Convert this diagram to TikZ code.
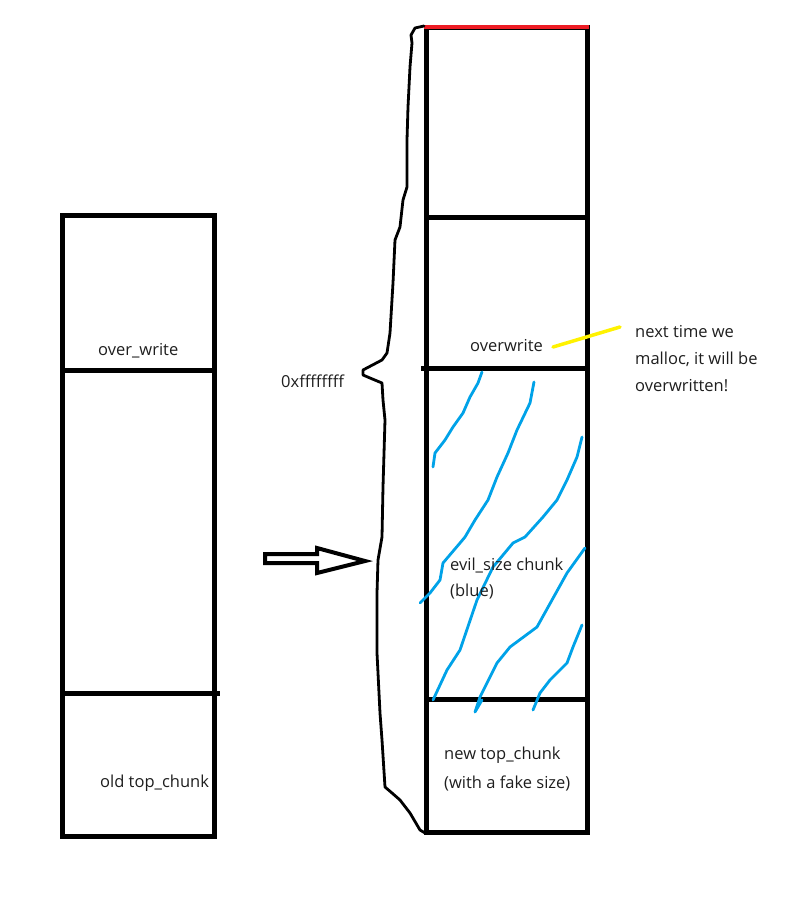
\documentclass[tikz,border=0pt]{standalone}
\usepackage{fontspec}
\setmainfont{Open Sans}
\begin{document}
\begin{tikzpicture}[x=1pt,y=-1pt,
  box/.style={line width=5pt},
  brace/.style={line width=2.8pt,line join=round,line cap=round},
  blueline/.style={line width=2.8pt,color=stroke,line join=round,line cap=round},
  lbl/.style={font=\fontsize{16.5}{20}\selectfont,text=txt,inner sep=0pt,anchor=west}]
\definecolor{stroke}{RGB}{0,162,232}
\definecolor{txt}{RGB}{30,30,30}
\definecolor{redl}{RGB}{237,28,36}
\definecolor{yell}{RGB}{255,242,0}
\useasboundingbox (0,0) rectangle (791,900);
% left column
\draw[box] (62,215) rectangle (214,836);
\draw[box] (60,370) -- (216,370);
\draw[box] (60,693) -- (220,693);
% right column
\draw[box] (426,27) rectangle (587,832);
\draw[box] (426,217) -- (587,217);
\draw[box] (421,368) -- (589,368);
\draw[box] (426,699) -- (589,699);
\draw[line width=4.5pt,redl] (424,27) -- (589,27);
% hollow arrow
\draw[line width=4pt,line join=miter] (265,554) -- (317,554) -- (317,548) -- (365,561) -- (317,573) -- (317,563) -- (265,563) -- cycle;
% brace
\draw[brace] (424,26) -- (415,28) -- (411,35) -- (412,43) -- (410,67) -- (408,107) -- (407,140) -- (407,187) -- (403,200) -- (400,227) -- (395,240) -- (393,283) -- (390,333) -- (387,353) -- (382,360) -- (363,370) -- (363,375) -- (370,378) -- (382,383) -- (383,400) -- (385,420) -- (383,487) -- (382,537) -- (378,560) -- (377,593) -- (377,653) -- (380,713) -- (382,740) -- (385,787) -- (392,793) -- (400,800) -- (410,813) -- (420,830) -- (425,833);
% blue hatching
\draw[blueline] (482,372) -- (478,383) -- (470,397) -- (463,413) -- (453,427) -- (445,440) -- (435,453) -- (433,467);
\draw[blueline] (534,382) -- (530,403) -- (517,430) -- (508,453) -- (497,477) -- (488,500) -- (475,520) -- (465,537) -- (460,543) -- (443,563) -- (440,580) -- (430,593) -- (420,603);
\draw[blueline] (582,437) -- (577,457) -- (567,480) -- (557,500) -- (543,517) -- (525,537) -- (513,543) -- (493,567) -- (477,600) -- (460,650) -- (447,670) -- (433,700);
\draw[blueline] (585,548) -- (567,573) -- (537,627) -- (510,647) -- (497,663) -- (480,697) -- (475,712) -- (482,700);
\draw[blueline] (582,625) -- (573,647) -- (567,663) -- (550,680) -- (540,693) -- (533,710);
% yellow pointer
\draw[line width=3.5pt,yell,line cap=round] (553,347) -- (620,327);
% labels
\node[lbl] (ow1) at (98,351) {over\_write};
\node[lbl] (old) at (100,783) {old top\_chunk};
\node[lbl] (hex) at (281,381) {0xffffffff};
\node[lbl] (ow2) at (470,346) {overwrite};
\node[lbl] (n1) at (635,332) {next time we};
\node[lbl] (n2) at (635,359) {malloc, it will be};
\node[lbl] (n3) at (635,386) {overwritten!};
\node[lbl] (ev1) at (450,565) {evil\_size chunk};
\node[lbl] (ev2) at (450,592) {(blue)};
\node[lbl] (nt1) at (444,755) {new top\_chunk};
\node[lbl] (nt2) at (444,783) {(with a fake size)};
\end{tikzpicture}
\end{document}
